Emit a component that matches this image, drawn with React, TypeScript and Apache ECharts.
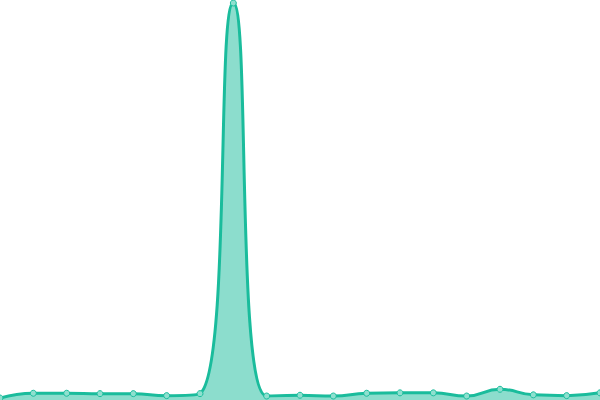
import React, { useEffect, useRef } from 'react';
import * as echarts from 'echarts';

// 19 evenly spaced points across the full width
const categories = [
  'P1', 'P2', 'P3', 'P4', 'P5', 'P6', 'P7', 'P8', 'P9', 'P10',
  'P11', 'P12', 'P13', 'P14', 'P15', 'P16', 'P17', 'P18', 'P19',
];
const values = [5, 17, 17, 16, 16, 11, 16, 1000, 10, 12, 10, 17, 18, 18, 10, 27, 13, 11, 18];

const App: React.FC = () => {
  const chartRef = useRef<HTMLDivElement>(null);

  useEffect(() => {
    const chart = echarts.init(chartRef.current!, undefined, { renderer: 'svg' });

    const options = {
      animation: false,
      grid: { left: 0, right: 0, top: 3, bottom: 0 },
      xAxis: {
        type: 'category',
        data: categories,
        boundaryGap: false,
        show: false,
      },
      yAxis: {
        type: 'value',
        min: 0,
        max: 'dataMax',
        show: false,
      },
      series: [
        {
          type: 'line',
          data: values,
          smooth: true,
          symbol: 'circle',
          symbolSize: 6,
          lineStyle: { color: '#1abc9c', width: 3 },
          itemStyle: { color: '#8ee0cf', borderColor: '#1abc9c', borderWidth: 1 },
          areaStyle: { color: '#1abc9c', opacity: 0.5 },
        },
      ],
    };

    chart.setOption(options);

    return () => {
      chart.dispose();
    };
  }, []);

  return (
    <div
      ref={chartRef}
      style={{
        position: 'fixed',
        left: 0,
        top: 0,
        width: '600px',
        height: '400px',
      }}
    />
  );
};

export default App;
